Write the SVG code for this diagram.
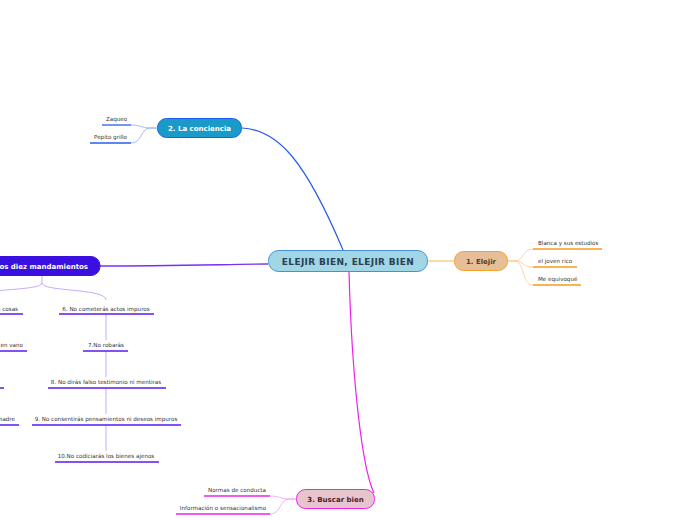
<svg xmlns="http://www.w3.org/2000/svg" width="696" height="520" viewBox="0 0 696 520">
<style>
  text { font-family: "DejaVu Sans", Verdana, sans-serif; }
  .main { font-size: 9px; font-weight: bold; fill: #2b3f52; letter-spacing: 0.35px; }
  .topic { font-size: 7px; font-weight: bold; }
  .sub { font-size: 5.6px; fill: #333; }
  .conn { fill: none; }
</style>
<rect width="696" height="520" fill="#fff"/>
<g id="connectors">
  <path class="conn" d="M242,128 C278,130 305,160 343,250" stroke="#2a5cf0" stroke-width="1.2"/>
  <path class="conn" d="M268,264 C200,265 160,266 100,266" stroke="#7a30f0" stroke-width="1.3"/>
  <path class="conn" d="M428,261 L454,261" stroke="#f5b060" stroke-width="1"/>
  <path class="conn" d="M349,272 C352,380 362,468 374,493" stroke="#ee22ee" stroke-width="1.2"/>
  <g stroke="#ffc98a" stroke-width="0.8" fill="none">
    <path d="M508,261 L515,261 C524,261 522,249 533,249"/>
    <path d="M508,261 L515,261 C524,261 522,267 533,267"/>
    <path d="M508,261 L515,261 C524,261 522,285 533,285"/>
  </g>
  <g stroke="#8aa8ff" stroke-width="0.8" fill="none">
    <path d="M157,128 L150,128 C141,128 142,125 131,125"/>
    <path d="M157,128 L150,128 C141,128 142,143 131,143"/>
  </g>
  <g stroke="#f49af4" stroke-width="0.8" fill="none">
    <path d="M296,499 L289,499 C280,499 281,496 270,496"/>
    <path d="M296,499 L289,499 C280,499 281,514 270,514"/>
  </g>
  <g stroke="#b794ff" stroke-width="0.8" fill="none">
    <path d="M42,276 L42,283 C42,292 -40,288 -40,300"/>
    <path d="M42,283 C42,292 106,288 106,300"/>
    <path d="M106,314 L106,340"/>
    <path d="M106,351 L106,377"/>
    <path d="M106,388 L106,414"/>
    <path d="M106,425 L106,451"/>
  </g>
</g>
<g id="central">
  <rect x="268.5" y="250.5" width="159" height="21" rx="10" fill="#a0d6e6" stroke="#4a8fce" stroke-width="1"/>
  <text class="main" x="348" y="264.5" text-anchor="middle">ELEJIR BIEN, ELEJIR BIEN</text>
</g>
<g id="n1">
  <rect x="454.5" y="251.5" width="53" height="19" rx="9" fill="#e6bf98" stroke="#f4a22a" stroke-width="1"/>
  <text class="topic" x="481" y="263.5" text-anchor="middle" fill="#5a3a1e">1. Elejir</text>
</g>
<g id="n1a">
  <text class="sub" x="538" y="245">Blanca y sus estudios</text>
  <line x1="533" y1="249" x2="602" y2="249" stroke="#f79a1a" stroke-width="1.3"/>
</g>
<g id="n1b">
  <text class="sub" x="538" y="263">el joven rico</text>
  <line x1="533" y1="267" x2="577" y2="267" stroke="#f79a1a" stroke-width="1.3"/>
</g>
<g id="n1c">
  <text class="sub" x="538" y="281">Me equivoqué</text>
  <line x1="533" y1="285" x2="581" y2="285" stroke="#f79a1a" stroke-width="1.3"/>
</g>
<g id="n2">
  <rect x="157.5" y="118.5" width="84" height="19" rx="9" fill="#1a9ac8" stroke="#2060e8" stroke-width="1"/>
  <text class="topic" x="199.5" y="130.5" text-anchor="middle" fill="#fff">2. La conciencia</text>
</g>
<g id="n2a">
  <text class="sub" x="116.5" y="121" text-anchor="middle">Zaqueo</text>
  <line x1="102" y1="125" x2="131" y2="125" stroke="#2a5cf0" stroke-width="1.3"/>
</g>
<g id="n2b">
  <text class="sub" x="110.5" y="139" text-anchor="middle">Pepito grillo</text>
  <line x1="90" y1="143" x2="131" y2="143" stroke="#2a5cf0" stroke-width="1.3"/>
</g>
<g id="n3">
  <rect x="296.5" y="489.5" width="78" height="19" rx="9" fill="#e8c4cc" stroke="#ee22ee" stroke-width="1"/>
  <text class="topic" x="335.5" y="501.5" text-anchor="middle" fill="#4a1a2e">3. Buscar bien</text>
</g>
<g id="n3a">
  <text class="sub" x="237" y="492" text-anchor="middle">Normas de conducta</text>
  <line x1="204" y1="496" x2="270" y2="496" stroke="#ee22ee" stroke-width="1.3"/>
</g>
<g id="n3b">
  <text class="sub" x="223" y="510" text-anchor="middle">Información o sensacionalismo</text>
  <line x1="176" y1="514" x2="270" y2="514" stroke="#ee22ee" stroke-width="1.3"/>
</g>
<g id="n4">
  <rect x="-30" y="256.5" width="130" height="19" rx="9" fill="#3a10e0" stroke="#3a10e0" stroke-width="1"/>
  <text class="topic" x="88" y="268.5" text-anchor="end" fill="#fff">Los diez mandamientos</text>
</g>
<g id="m1">
  <text class="sub" x="18" y="311" text-anchor="end">1. Amarás a Dios sobre todas las cosas</text>
  <line x1="-100" y1="314" x2="23" y2="314" stroke="#5a18f0" stroke-width="1.3"/>
</g>
<g id="m2">
  <text class="sub" x="23" y="347" text-anchor="end">2. No tomarás el nombre de Dios en vano</text>
  <line x1="-100" y1="351" x2="27" y2="351" stroke="#5a18f0" stroke-width="1.3"/>
</g>
<g id="m3">
  <text class="sub" x="-1" y="384" text-anchor="end">3. Santificarás las fiestas</text>
  <line x1="-100" y1="388" x2="4" y2="388" stroke="#5a18f0" stroke-width="1.3"/>
</g>
<g id="m4">
  <text class="sub" x="15" y="421" text-anchor="end">4. Honrarás a tu padre y a tu madre</text>
  <line x1="-100" y1="425" x2="19" y2="425" stroke="#5a18f0" stroke-width="1.3"/>
</g>
<g id="m5">
  <text class="sub" x="-20" y="458" text-anchor="end">5. No matarás</text>
  <line x1="-70" y1="462" x2="-16" y2="462" stroke="#5a18f0" stroke-width="1.3"/>
</g>
<g id="m6">
  <text class="sub" x="106" y="311" text-anchor="middle">6. No cometerás actos impuros</text>
  <line x1="59" y1="314" x2="154" y2="314" stroke="#5a18f0" stroke-width="1.3"/>
</g>
<g id="m7">
  <text class="sub" x="106" y="347" text-anchor="middle">7.No robarás</text>
  <line x1="83" y1="351" x2="128" y2="351" stroke="#5a18f0" stroke-width="1.3"/>
</g>
<g id="m8">
  <text class="sub" x="106" y="384" text-anchor="middle">8. No dirás falso testimonio ni mentiras</text>
  <line x1="48" y1="388" x2="166" y2="388" stroke="#5a18f0" stroke-width="1.3"/>
</g>
<g id="m9">
  <text class="sub" x="106" y="421" text-anchor="middle">9. No consentirás pensamientos ni deseos impuros</text>
  <line x1="32" y1="425" x2="181" y2="425" stroke="#5a18f0" stroke-width="1.3"/>
</g>
<g id="m10">
  <text class="sub" x="106" y="458" text-anchor="middle">10.No codiciarás los bienes ajenos</text>
  <line x1="55" y1="462" x2="159" y2="462" stroke="#5a18f0" stroke-width="1.3"/>
</g>
</svg>
